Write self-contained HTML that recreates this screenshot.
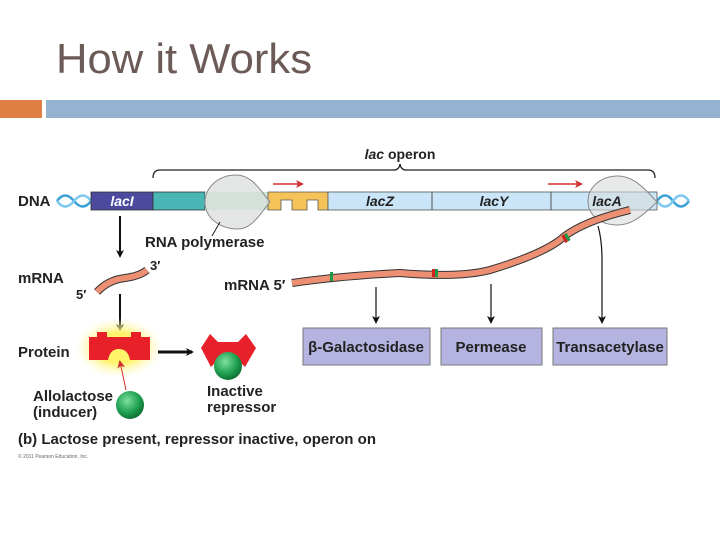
<!DOCTYPE html>
<html><head><meta charset="utf-8"><style>
body{margin:0;background:#fff;width:720px;height:540px;overflow:hidden;font-family:"Liberation Sans",sans-serif}
</style></head><body>
<svg width="720" height="540" viewBox="0 0 720 540" xmlns="http://www.w3.org/2000/svg" font-family="Liberation Sans, sans-serif">
<defs>
<radialGradient id="g" cx="0.4" cy="0.35" r="0.7"><stop offset="0" stop-color="#7fe0a0"/><stop offset="0.6" stop-color="#1fa050"/><stop offset="1" stop-color="#0b6a30"/></radialGradient>
<radialGradient id="glow" cx="0.5" cy="0.5" r="0.5"><stop offset="0.5" stop-color="#fff36a"/><stop offset="1" stop-color="#fffbd0" stop-opacity="0"/></radialGradient>
<marker id="ah" markerWidth="8" markerHeight="8" refX="6" refY="4" orient="auto" markerUnits="userSpaceOnUse"><path d="M0,0 L8,4 L0,8 L2,4z" fill="#111"/></marker>
<marker id="rh" markerWidth="8" markerHeight="8" refX="6" refY="4" orient="auto" markerUnits="userSpaceOnUse"><path d="M0,0 L8,4 L0,8 L2,4z" fill="#d03030"/></marker>
</defs>
<text x="56" y="73" font-size="42" fill="#6b5a55" textLength="256" lengthAdjust="spacingAndGlyphs">How it Works</text>
<rect x="0" y="100" width="42" height="18" fill="#e07f44"/>
<rect x="46" y="100" width="674" height="18" fill="#95b3d0"/>

<path d="M153,178 Q153,170 160,170 L394,170 Q399,170 400,164 Q401,170 406,170 L648,170 Q655,170 655,178" fill="none" stroke="#222" stroke-width="1.3"/>
<text x="400" y="159" font-size="14" font-weight="bold" text-anchor="middle" fill="#222"><tspan font-style="italic">lac</tspan> operon</text>

<path d="M57,201 Q65,190 74,201 T91,201" fill="none" stroke="#3aa0d8" stroke-width="2.5"/>
<path d="M57,201 Q65,212 74,201 T91,201" fill="none" stroke="#7cc8ef" stroke-width="2.5"/>
<path d="M657,201 Q665,190 673,201 T689,201" fill="none" stroke="#3aa0d8" stroke-width="2.5"/>
<path d="M657,201 Q665,212 673,201 T689,201" fill="none" stroke="#7cc8ef" stroke-width="2.5"/>

<rect x="91" y="192" width="62" height="18" fill="#4b4a9e" stroke="#333" stroke-width="0.8"/>
<text x="122" y="206" font-size="14" font-weight="bold" font-style="italic" fill="#fff" text-anchor="middle">lacI</text>
<rect x="153" y="192" width="52" height="18" fill="#48b6b4" stroke="#333" stroke-width="0.8"/>
<rect x="205" y="192" width="63" height="18" fill="#cfe9d8"/>
<path d="M268,192 L328,192 L328,210 L318,210 L318,200 L307,200 L307,210 L292,210 L292,200 L281,200 L281,210 L268,210 Z" fill="#f6c35a" stroke="#555" stroke-width="0.8"/>
<rect x="328" y="192" width="329" height="18" fill="#c9e5f7" stroke="#555" stroke-width="0.8"/>
<line x1="432" y1="192" x2="432" y2="210" stroke="#555"/>
<line x1="551" y1="192" x2="551" y2="210" stroke="#555"/>
<text x="380" y="206" font-size="14" font-weight="bold" font-style="italic" fill="#222" text-anchor="middle">lacZ</text>
<text x="494" y="206" font-size="14" font-weight="bold" font-style="italic" fill="#222" text-anchor="middle">lacY</text>

<!-- polymerase left: teardrop pointing right -->
<path d="M236,175 C218,175 205,188 205,202 C205,218 220,229 238,229 C252,229 260,214 270,202 C260,190 252,175 236,175 Z" fill="#d8dcdc" fill-opacity="0.7" stroke="#888"/>
<line x1="220" y1="222" x2="212" y2="236" stroke="#222"/>
<!-- polymerase right -->
<path d="M618,176 C600,176 588,188 588,201 C588,215 600,225 618,225 C634,225 646,212 657,202 C646,190 634,176 618,176 Z" fill="#d8dcdc" fill-opacity="0.6" stroke="#888"/>
<text x="607" y="206" font-size="14" font-weight="bold" font-style="italic" fill="#222" text-anchor="middle">lacA</text>

<line x1="273" y1="184" x2="302" y2="184" stroke="#d03030" stroke-width="1.5" marker-end="url(#rh)"/>
<line x1="548" y1="184" x2="581" y2="184" stroke="#d03030" stroke-width="1.5" marker-end="url(#rh)"/>

<text x="18" y="206" font-size="15" font-weight="bold" fill="#222">DNA</text>
<text x="145" y="247" font-size="15" font-weight="bold" fill="#222">RNA polymerase</text>
<text x="18" y="283" font-size="15" font-weight="bold" fill="#222">mRNA</text>
<text x="224" y="290" font-size="15" font-weight="bold" fill="#222">mRNA 5′</text>
<text x="150" y="270" font-size="13" font-weight="bold" fill="#222">3′</text>
<text x="76" y="299" font-size="13" font-weight="bold" fill="#222">5′</text>

<line x1="120" y1="216" x2="120" y2="256" stroke="#111" stroke-width="2" marker-end="url(#ah)"/>
<line x1="120" y1="294" x2="120" y2="330" stroke="#111" stroke-width="2" marker-end="url(#ah)"/>
<line x1="376" y1="287" x2="376" y2="322" stroke="#111" stroke-width="1.2" marker-end="url(#ah)"/>
<line x1="491" y1="284" x2="491" y2="322" stroke="#111" stroke-width="1.2" marker-end="url(#ah)"/>
<path d="M598,226 Q602,240 602,260 L602,322" fill="none" stroke="#111" stroke-width="1.2" marker-end="url(#ah)"/>

<path d="M97,292 Q108,280 125,278 Q140,276 147,270" fill="none" stroke="#333" stroke-width="8"/>
<path d="M97,292 Q108,280 125,278 Q140,276 147,270" fill="none" stroke="#ec8f72" stroke-width="6"/>
<path d="M292,283 Q340,276 400,273 Q460,278 490,270 Q540,255 560,240 Q580,222 630,210" fill="none" stroke="#333" stroke-width="8"/>
<path d="M292,283 Q340,276 400,273 Q460,278 490,270 Q540,255 560,240 Q580,222 630,210" fill="none" stroke="#ec8f72" stroke-width="6"/>
<rect x="330" y="272" width="3" height="9" fill="#1d9a45"/>
<rect x="432" y="269" width="3" height="8" fill="#d02020"/><rect x="435" y="269" width="3" height="8" fill="#1d9a45"/>
<g transform="rotate(-30 566 238)"><rect x="563" y="234" width="3" height="8" fill="#d02020"/><rect x="566" y="234" width="3" height="8" fill="#1d9a45"/></g>

<rect x="303" y="328" width="127" height="37" fill="#b5b3e0" stroke="#777"/>
<rect x="441" y="328" width="101" height="37" fill="#b5b3e0" stroke="#777"/>
<rect x="553" y="328" width="114" height="37" fill="#b5b3e0" stroke="#777"/>
<text x="366" y="352" font-size="15" font-weight="bold" fill="#222" text-anchor="middle">β-Galactosidase</text>
<text x="491" y="352" font-size="15" font-weight="bold" fill="#222" text-anchor="middle">Permease</text>
<text x="610" y="352" font-size="15" font-weight="bold" fill="#222" text-anchor="middle">Transacetylase</text>

<ellipse cx="119" cy="348" rx="44" ry="30" fill="url(#glow)"/>
<path d="M89,337 L97,337 L97,332 L107,332 L107,337 L131,337 L131,332 L141,332 L141,337 L150,337 L150,360 L130,360 Q128,349 119,349 Q110,349 108,360 L89,360 Z" fill="#e8202a"/>
<line x1="158" y1="352" x2="192" y2="352" stroke="#111" stroke-width="3" marker-end="url(#ah)"/>
<text x="18" y="357" font-size="15" font-weight="bold" fill="#222">Protein</text>
<path d="M201,348 L210,334 L218,342 L238,342 L246,334 L256,348 L245,367 L236,358 L220,358 L211,367 Z" fill="#e8202a"/>
<circle cx="228" cy="366" r="14" fill="url(#g)"/>
<text x="207" y="396" font-size="15" font-weight="bold" fill="#222">Inactive</text>
<text x="207" y="412" font-size="15" font-weight="bold" fill="#222">repressor</text>
<circle cx="130" cy="405" r="14" fill="url(#g)"/>
<line x1="126" y1="390" x2="120" y2="362" stroke="#d03030" stroke-width="1" marker-end="url(#rh)"/>
<text x="33" y="401" font-size="15" font-weight="bold" fill="#222">Allolactose</text>
<text x="33" y="417" font-size="15" font-weight="bold" fill="#222">(inducer)</text>

<text x="18" y="444" font-size="15" font-weight="bold" fill="#222" textLength="358" lengthAdjust="spacingAndGlyphs">(b) Lactose present, repressor inactive, operon on</text>
<text x="18" y="458" font-size="5" fill="#666">© 2011 Pearson Education, Inc.</text>
</svg>
</body></html>
